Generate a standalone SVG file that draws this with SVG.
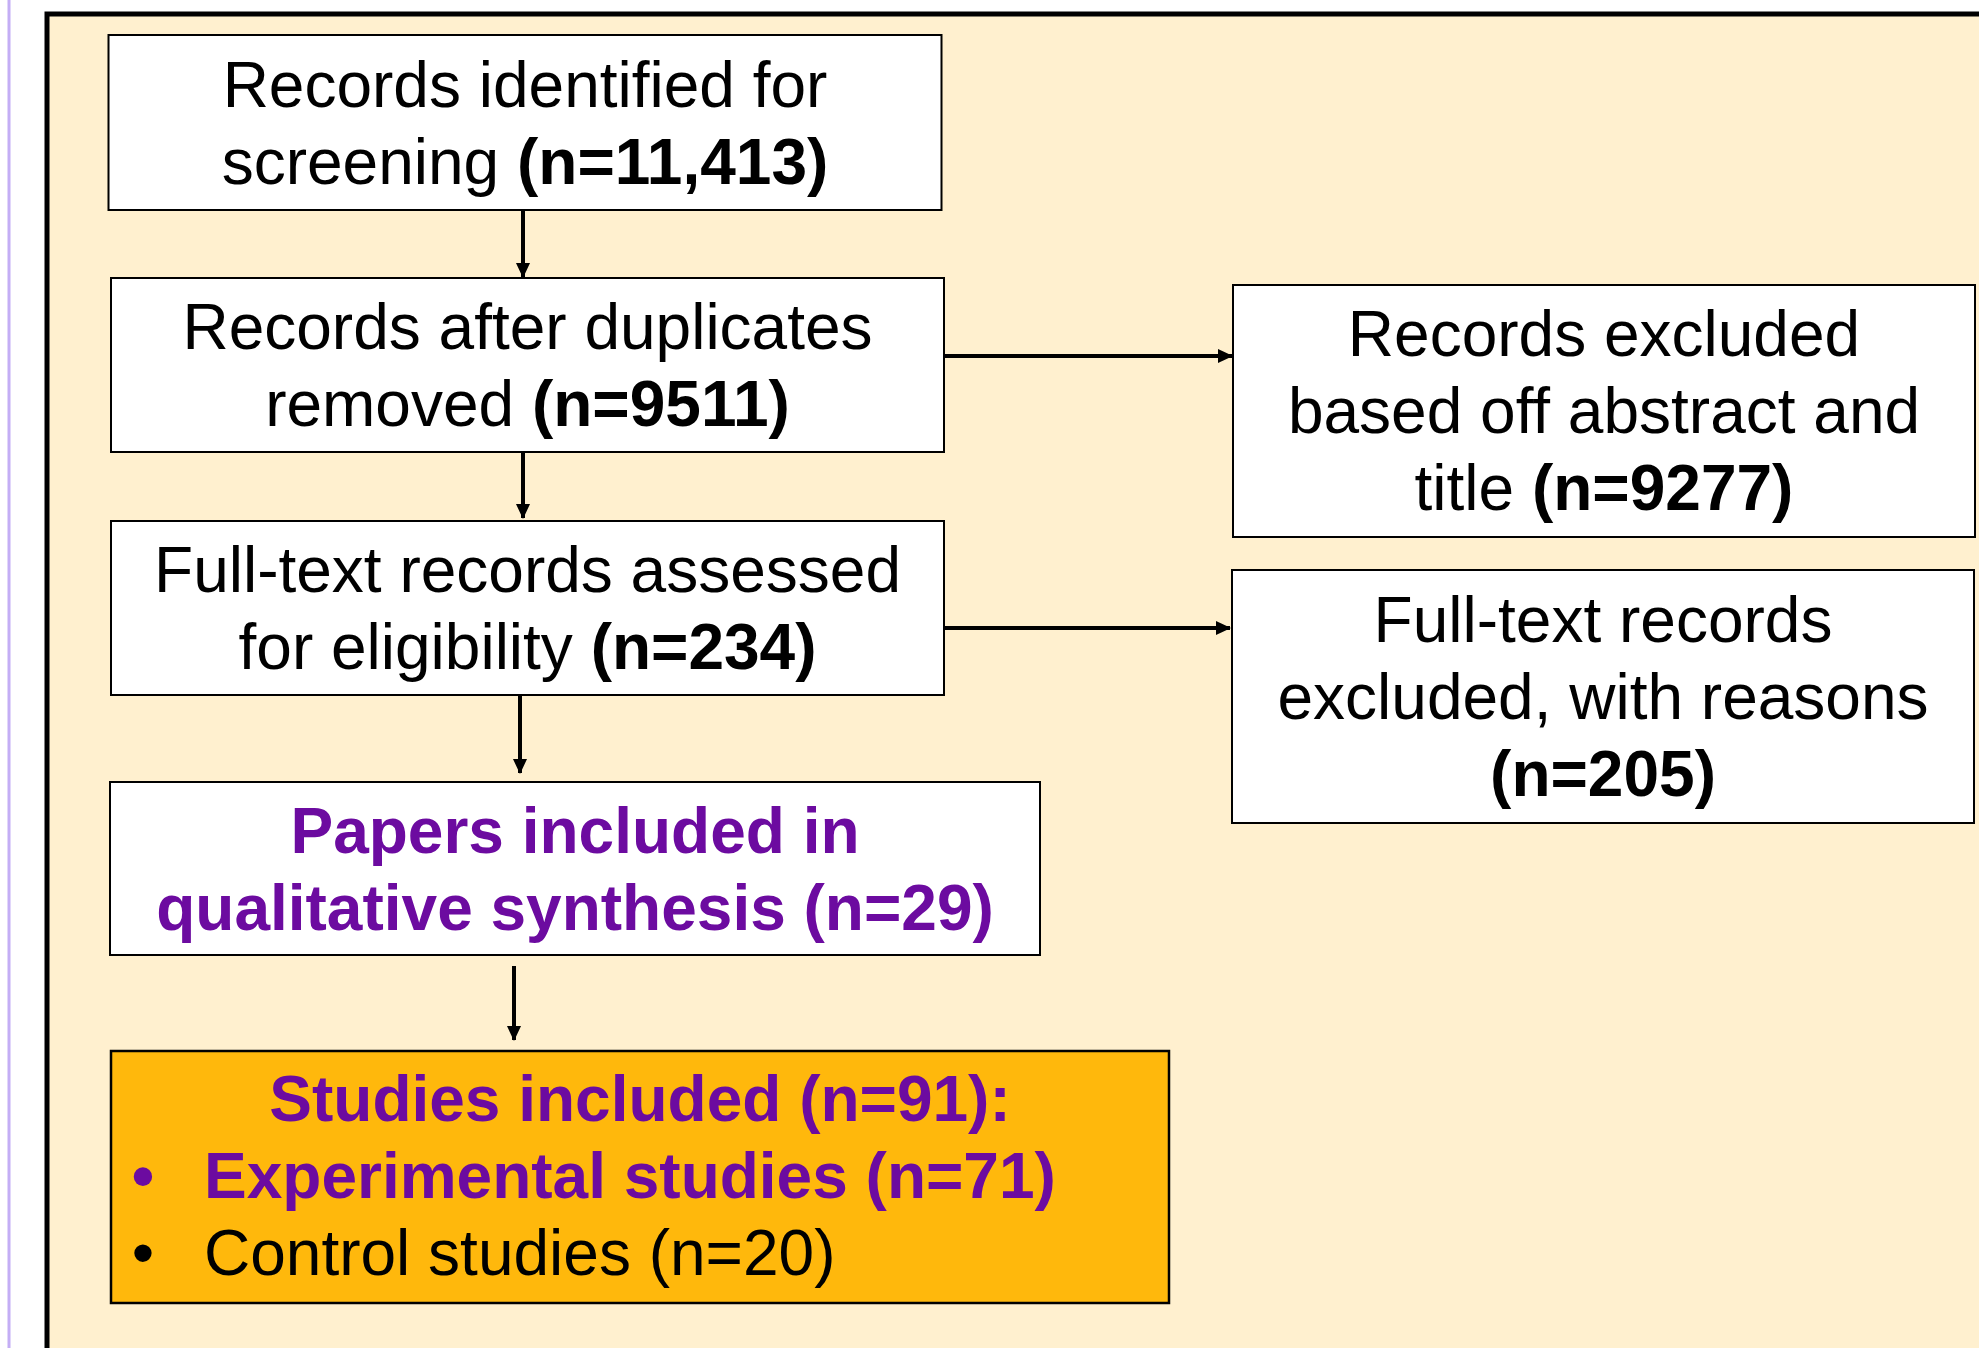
<svg xmlns="http://www.w3.org/2000/svg" width="1979" height="1348" viewBox="0 0 1979 1348">
<style>
.box{fill:#ffffff;stroke:#000;stroke-width:2}
.t{font-family:"Liberation Sans",Arial,sans-serif;font-size:64px;fill:#000;text-anchor:middle}
.b{font-weight:bold}
.p{fill:#6c0ba0;font-weight:bold}
.c{stroke:#000;stroke-width:4;fill:none}
</style>
<defs>
<marker id="ah" markerUnits="userSpaceOnUse" markerWidth="16" markerHeight="14" refX="14" refY="7" orient="auto">
<path d="M0,0 L15,7 L0,14 Z" fill="#000"/>
</marker>
</defs>
<rect x="0" y="0" width="1979" height="1348" fill="#ffffff"/>
<line x1="9" y1="0" x2="9" y2="1348" stroke="#c4aef5" stroke-width="3"/>
<rect id="frame" x="47" y="14" width="2000" height="1400" fill="#fff0cf" stroke="#000" stroke-width="5"/>

<g id="connectors">
<line class="c" x1="523" y1="210" x2="523" y2="277" marker-end="url(#ah)"/>
<line class="c" x1="523" y1="452" x2="523" y2="518" marker-end="url(#ah)"/>
<line class="c" x1="520" y1="695" x2="520" y2="773" marker-end="url(#ah)"/>
<line class="c" x1="514" y1="966" x2="514" y2="1040" marker-end="url(#ah)"/>
<line class="c" x1="944" y1="356" x2="1232" y2="356" marker-end="url(#ah)"/>
<line class="c" x1="943" y1="628" x2="1230" y2="628" marker-end="url(#ah)"/>
</g>

<g id="n1">
<rect class="box" x="108.5" y="35" width="833" height="175"/>
<text class="t" x="525" y="107">Records identified for</text>
<text class="t" x="525" y="184">screening <tspan class="b">(n=11,413)</tspan></text>
</g>
<g id="n2">
<rect class="box" x="111" y="278" width="833" height="174"/>
<text class="t" x="527.5" y="349">Records after duplicates</text>
<text class="t" x="527.5" y="426">removed <tspan class="b">(n=9511)</tspan></text>
</g>
<g id="n3">
<rect class="box" x="111" y="521" width="833" height="174"/>
<text class="t" x="527.5" y="592">Full-text records assessed</text>
<text class="t" x="527.5" y="669">for eligibility <tspan class="b">(n=234)</tspan></text>
</g>
<g id="n4">
<rect class="box" x="110" y="782" width="930" height="173"/>
<text class="t p" x="575" y="853">Papers included in</text>
<text class="t p" x="575" y="930">qualitative synthesis (n=29)</text>
</g>
<g id="n5">
<rect x="111" y="1051" width="1058" height="252" fill="#ffb80c" stroke="#000" stroke-width="2.5"/>
<text class="t p" x="640" y="1121">Studies included (n=91):</text>
<text class="t p" x="143" y="1198">•</text>
<text class="t p" x="204" y="1198" style="text-anchor:start">Experimental studies (n=71)</text>
<text class="t" x="143" y="1275">•</text>
<text class="t" x="204" y="1275" style="text-anchor:start">Control studies (n=20)</text>
</g>
<g id="nA">
<rect class="box" x="1233" y="285" width="742" height="252"/>
<text class="t" x="1604" y="356">Records excluded</text>
<text class="t" x="1604" y="433">based off abstract and</text>
<text class="t" x="1604" y="510">title <tspan class="b">(n=9277)</tspan></text>
</g>
<g id="nB">
<rect class="box" x="1232" y="570" width="742" height="253"/>
<text class="t" x="1603" y="642">Full-text records</text>
<text class="t" x="1603" y="719">excluded, with reasons</text>
<text class="t b" x="1603" y="796">(n=205)</text>
</g>
</svg>
